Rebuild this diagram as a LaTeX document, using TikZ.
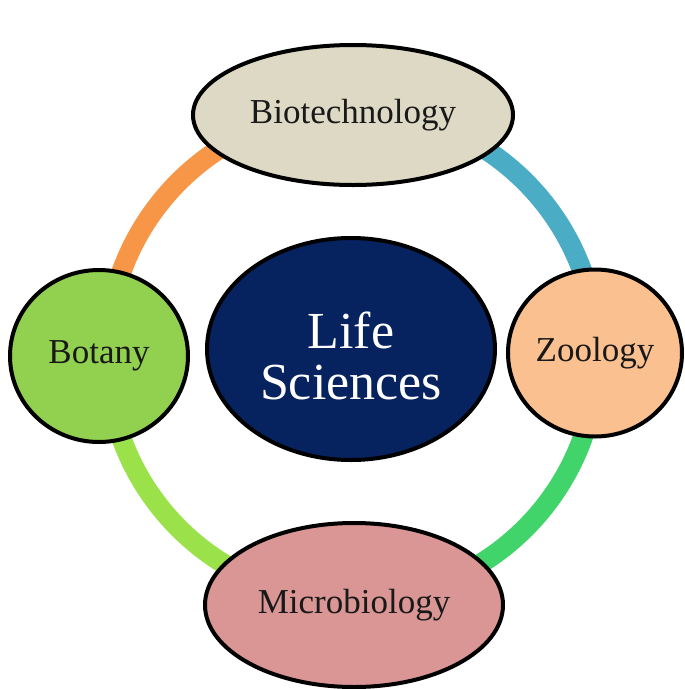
\documentclass[tikz,border=0pt]{standalone}
\usepackage{fontspec}
\setmainfont{Liberation Serif}
\usetikzlibrary{shapes.geometric}
\definecolor{ringorange}{HTML}{F79646}
\definecolor{ringblue}{HTML}{4BACC6}
\definecolor{ringgreen}{HTML}{40D46A}
\definecolor{ringlime}{HTML}{9BE24A}
\definecolor{biofill}{HTML}{DDD9C4}
\definecolor{botfill}{HTML}{92D050}
\definecolor{zoofill}{HTML}{FAC090}
\definecolor{micfill}{HTML}{D99694}
\definecolor{lifefill}{HTML}{06225F}
\tikzset{
  topic/.style={ellipse, draw=black, line width=4pt, inner sep=0pt,
    font=\fontsize{35}{40}\selectfont, text=black!90},
  ringarc/.style={line width=20pt}
}
\begin{document}
\begin{tikzpicture}[x=1pt,y=-1pt]
\useasboundingbox (0,0) rectangle (685,689);
\coordinate (o) at (352,355);
% ring (y axis points down, so 270 is the top)
\draw[ringarc, ringorange] ([shift={(270:245)}]o) arc[start angle=270, end angle=180, radius=245];
\draw[ringarc, ringblue] ([shift={(270:245)}]o) arc[start angle=270, end angle=360, radius=245];
\draw[ringarc, ringgreen] ([shift={(0:245)}]o) arc[start angle=0, end angle=90, radius=245];
\draw[ringarc, ringlime] ([shift={(180:245)}]o) arc[start angle=180, end angle=90, radius=245];
% nodes
\node[topic, fill=biofill, minimum width=320pt, minimum height=140pt] (bio) at (353,115) {Biotechnology};
\node[topic, fill=botfill, minimum width=178pt, minimum height=172pt] (bot) at (99,356) {Botany};
\node[topic, fill=zoofill, minimum width=174pt, minimum height=167pt] (zoo) at (595,353) {Zoology};
\node[topic, fill=micfill, minimum width=298pt, minimum height=164pt] (mic) at (354,605) {Microbiology};
\node[topic, fill=lifefill, minimum width=288pt, minimum height=222pt, text=white, align=center,
  font=\fontsize{52}{51}\selectfont] (life) at (351,349) {\rule{0pt}{50pt}Life\\Sciences};
\end{tikzpicture}
\end{document}
